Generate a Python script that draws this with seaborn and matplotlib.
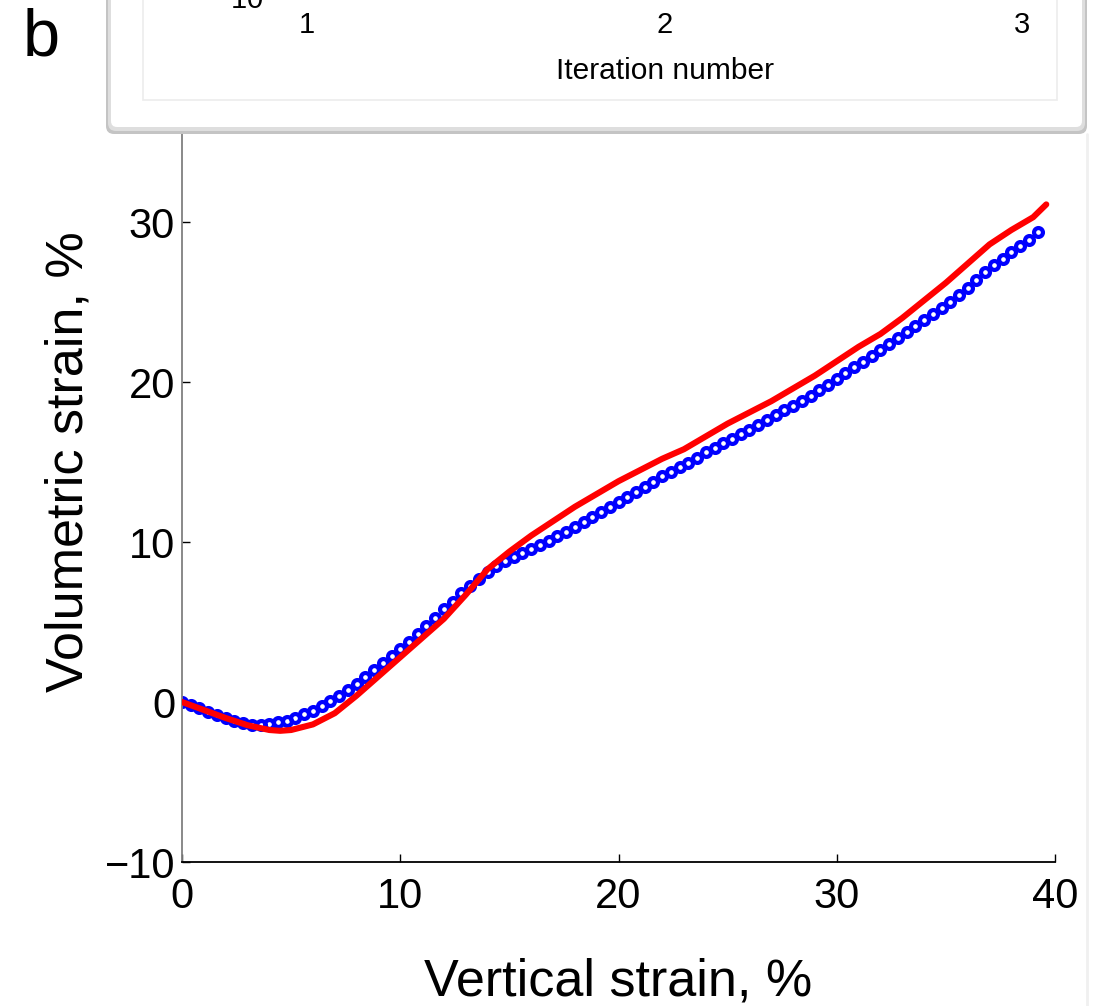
import numpy as np
import pandas as pd
import matplotlib
matplotlib.use("Agg")
import matplotlib.pyplot as plt
import seaborn as sns
from matplotlib.patches import FancyBboxPatch, Rectangle
from matplotlib.lines import Line2D
from matplotlib.transforms import IdentityTransform

# ---------------- data ----------------
blue_x = [0.0, 0.4, 0.8, 1.2, 1.6, 2.0, 2.4, 2.8, 3.2, 3.6, 4.0, 4.4, 4.8, 5.2, 5.6,
          6.0, 6.4, 6.8, 7.2, 7.6, 8.0, 8.4, 8.8, 9.2, 9.6, 10.0, 10.4, 10.8, 11.2, 11.6,
          12.0, 12.4, 12.8, 13.2, 13.6, 14.0, 14.4, 14.8, 15.2, 15.6, 16.0, 16.4, 16.8,
          17.2, 17.6, 18.0, 18.4, 18.8, 19.2, 19.6, 20.0, 20.4, 20.8, 21.2, 21.6, 22.0,
          22.4, 22.8, 23.2, 23.6, 24.0, 24.4, 24.8, 25.2, 25.6, 26.0, 26.4, 26.8, 27.2,
          27.6, 28.0, 28.4, 28.8, 29.2, 29.6, 30.0, 30.4, 30.8, 31.2, 31.6, 32.0, 32.4,
          32.8, 33.2, 33.6, 34.0, 34.4, 34.8, 35.2, 35.6, 36.0, 36.4, 36.8, 37.2, 37.6,
          38.0, 38.4, 38.8, 39.2]
blue_y = [0.00, -0.20, -0.40, -0.60, -0.80, -1.00, -1.16, -1.32, -1.43, -1.46, -1.40,
          -1.28, -1.16, -1.00, -0.77, -0.55, -0.25, 0.05, 0.38, 0.74, 1.10, 1.54, 1.98,
          2.42, 2.86, 3.30, 3.78, 4.26, 4.76, 5.28, 5.80, 6.28, 6.80, 7.27, 7.71, 8.15,
          8.47, 8.79, 9.07, 9.33, 9.55, 9.81, 10.07, 10.35, 10.65, 10.95, 11.25, 11.55,
          11.86, 12.18, 12.50, 12.82, 13.14, 13.46, 13.78, 14.10, 14.38, 14.66, 14.96,
          15.28, 15.60, 15.88, 16.16, 16.44, 16.72, 17.00, 17.32, 17.64, 17.94, 18.22,
          18.50, 18.82, 19.14, 19.48, 19.84, 20.20, 20.56, 20.92, 21.28, 21.64, 22.00,
          22.36, 22.72, 23.10, 23.50, 23.90, 24.26, 24.62, 25.02, 25.46, 25.90, 26.38,
          26.86, 27.30, 27.70, 28.10, 28.50, 28.90, 29.35]

red_x = [0, 1, 2, 3, 4, 4.5, 5, 6, 7, 8, 9, 10, 11, 12, 13, 14, 15, 16, 17, 18, 19, 20,
         21, 22, 23, 24, 25, 26, 27, 28, 29, 30, 31, 32, 33, 34, 35, 36, 37, 38, 39, 39.6]
red_y = [0.0, -0.5, -1.0, -1.45, -1.75, -1.8, -1.75, -1.4, -0.7, 0.4, 1.6, 2.8, 4.0,
         5.2, 6.7, 8.3, 9.4, 10.4, 11.3, 12.2, 13.0, 13.8, 14.5, 15.2, 15.8, 16.6, 17.4,
         18.1, 18.8, 19.6, 20.4, 21.3, 22.2, 23.0, 24.0, 25.1, 26.2, 27.4, 28.6, 29.5,
         30.3, 31.1]

x_ticks = [0, 10, 20, 30, 40]
y_ticks = [-10, 0, 10, 20, 30, 40]
inset_ticks = [1, 2, 3]

x_label = "Vertical strain, %"
y_label = "Volumetric strain, %"
inset_label = "Iteration number"
panel_label = "b"

# ---------------- style ----------------
sns.set_theme(style="ticks")
plt.rcParams["font.family"] = ["Liberation Sans", "DejaVu Sans"]
plt.rcParams["mathtext.fontset"] = "custom"
plt.rcParams["mathtext.rm"] = "Liberation Sans"
plt.rcParams["axes.unicode_minus"] = True
plt.rcParams["text.color"] = "black"
plt.rcParams["axes.labelcolor"] = "black"
plt.rcParams["xtick.color"] = "black"
plt.rcParams["ytick.color"] = "black"

W, H = 1108, 1006
fig = plt.figure(figsize=(W / 100, H / 100), dpi=100)
fig.patch.set_facecolor("white")


def fx(px):
    return px / W


def fy(py):
    return 1 - py / H


# ---------------- main axes ----------------
ax = fig.add_axes([fx(182), fy(862), fx(1055) - fx(182), fy(62) - fy(862)])
ax.set_facecolor("white")

df_blue = pd.DataFrame({"x": blue_x, "y": blue_y})
df_red = pd.DataFrame({"x": red_x, "y": red_y})

sns.lineplot(data=df_blue, x="x", y="y", ax=ax, color="#0000ff", linestyle="none",
             marker="o", markersize=6.4, markerfacecolor="none",
             markeredgecolor="#0000ff", markeredgewidth=3.0, zorder=2, legend=False)
sns.lineplot(data=df_red, x="x", y="y", ax=ax, color="#ff0000", linewidth=4.4,
             zorder=3, legend=False)

ax.set_xlim(0, 40)
ax.set_ylim(-10, 40)
ax.set_xticks(x_ticks)
ax.set_yticks(y_ticks)
ax.grid(False)
for s in ["top", "right"]:
    ax.spines[s].set_visible(False)
ax.spines["left"].set_color("#808080")
ax.spines["left"].set_linewidth(1.3)
ax.spines["bottom"].set_color("black")
ax.spines["bottom"].set_linewidth(1.3)
ax.tick_params(direction="in", length=6, width=1.0, colors="black", labelsize=30)
ax.tick_params(axis="x", pad=11)
ax.tick_params(axis="y", pad=5)
ax.set_xlabel(x_label, fontsize=37.5, labelpad=29, color="black")
ax.set_ylabel(y_label, fontsize=37.5, labelpad=8, color="black")

# ---------------- inset frame (cut-off panel at top) ----------------
idt = IdentityTransform()


def box(x0, x1, ytop, ybot, fc, ec, lw, z, r=8):
    return FancyBboxPatch((x0, H - ybot), x1 - x0, ybot - ytop,
                          boxstyle=f"round,pad=0,rounding_size={r}",
                          transform=idt, facecolor=fc, edgecolor=ec,
                          linewidth=lw, zorder=z)


fig.add_artist(box(106, 1087, -60, 134, "#c4c4c4", "none", 0, 5))
fig.add_artist(box(108, 1085, -60, 131, "#dedede", "none", 0, 5.1))
fig.add_artist(box(111, 1082, -60, 127, "white", "none", 0, 5.2, r=6))
fig.add_artist(Rectangle((fx(143), fy(100)), fx(1057) - fx(143), 0.2,
                         transform=fig.transFigure, facecolor="white",
                         edgecolor="#ececec", linewidth=1.2, zorder=5.3))
fig.add_artist(Line2D([fx(1087), fx(1087)], [fy(134), 0], transform=fig.transFigure,
                      color="#f0f0f0", linewidth=2, zorder=4))

axin = fig.add_axes([fx(307), 1.0, fx(1022) - fx(307), 0.1], zorder=6)
axin.patch.set_alpha(0)
for s in axin.spines.values():
    s.set_visible(False)
axin.set_xlim(1, 3)
axin.set_xticks(inset_ticks)
axin.set_yticks([])
axin.tick_params(axis="x", length=0, labelsize=21, pad=8, colors="black")
axin.set_xlabel(inset_label, fontsize=21.5, labelpad=13, color="black")
axin.text(-0.045, 0.0, r"$10^{0}$", transform=axin.transAxes, ha="right",
          va="center", fontsize=21, color="black")

fig.text(fx(41), fy(38), panel_label, fontsize=48, ha="center", va="center",
         color="black")

fig.savefig("out.png", dpi=100, facecolor="white")
